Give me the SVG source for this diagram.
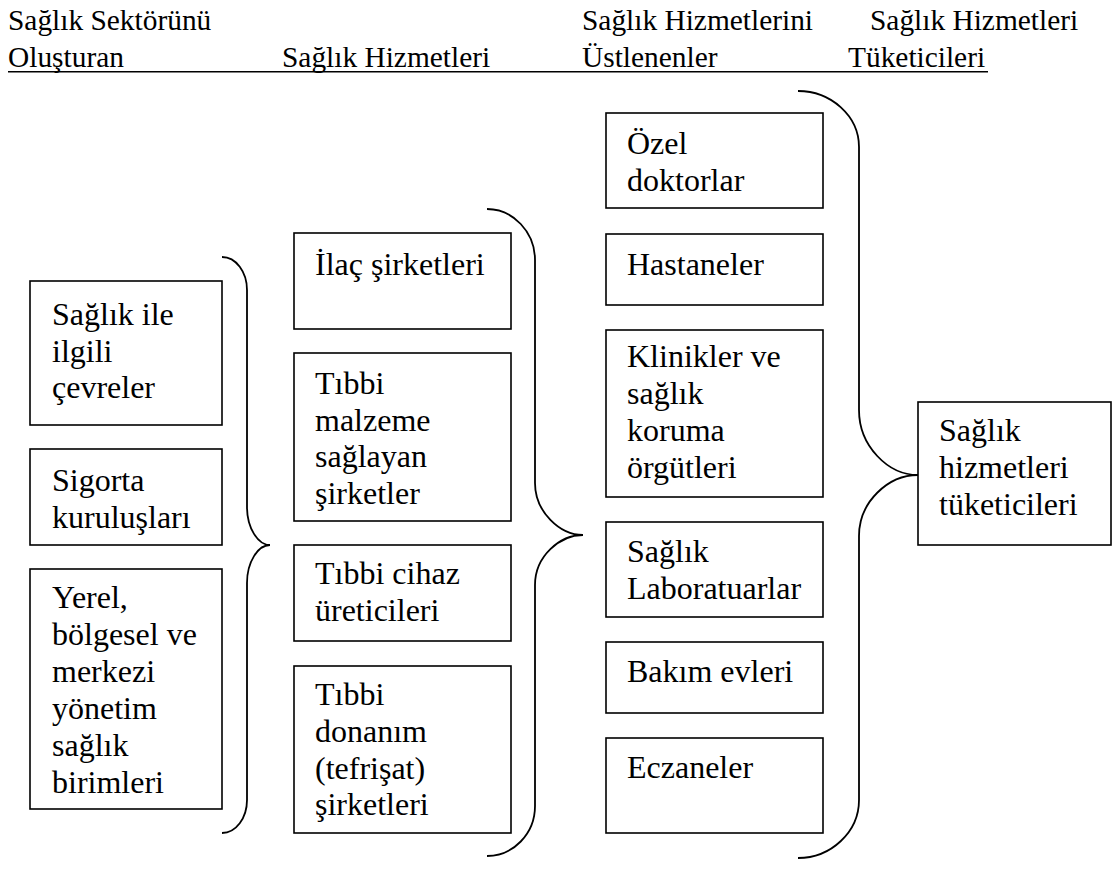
<svg xmlns="http://www.w3.org/2000/svg" width="1115" height="881" viewBox="0 0 1115 881" font-family="'Liberation Serif', 'Times New Roman', 'DejaVu Serif', serif">
<style>
.bg{fill:#fff}
.box{fill:#fff;stroke:#000;stroke-width:1.6}
.br{fill:none;stroke:#000;stroke-width:1.8}
.t{font-family:'Liberation Serif','Times New Roman','DejaVu Serif',serif;font-size:32px;fill:#000}
.h{font-family:'Liberation Serif','Times New Roman','DejaVu Serif',serif;font-size:29.4px;fill:#000}
</style>
<rect class="bg" x="0" y="0" width="1115" height="881"/>
<g id="header" font-family="Liberation Serif">
<text class="h" x="8" y="30">Sağlık Sektörünü</text>
<text class="h" x="8" y="67">Oluşturan</text>
<text class="h" x="282" y="67">Sağlık Hizmetleri</text>
<text class="h" x="582" y="30">Sağlık Hizmetlerini</text>
<text class="h" x="582" y="67">Üstlenenler</text>
<text class="h" x="870" y="30">Sağlık Hizmetleri</text>
<text class="h" x="848" y="67">Tüketicileri</text>
<line x1="8" y1="71.8" x2="988" y2="71.8" stroke="#000" stroke-width="1.6"/>
</g>
<g id="connectors">
<path class="br" d="M222,257 C236,257 247,272 247,290 L247,507 C247,528 258,545 270,545 C258,545 247,562 247,583 L247,800 C247,818 236,833 222,833"/>
<path class="br" d="M487,209 C513,209 535,232 535,260 L535,483 C535,512 560,535 583,535 C560,535 535,556 535,585 L535,806 C535,834 513,856 487,856"/>
<path class="br" d="M798,91 C831,91 859,116 859,147 L859,410 C859,446 888,475 918,475 C888,475 859,502 859,536 L859,800 C859,832 831,858 798,858"/>
</g>
<g id="n1"><rect class="box" x="30" y="281" width="192" height="144"/>
<text class="t" x="52" y="325">Sağlık ile</text><text class="t" x="52" y="361.5">ilgili</text><text class="t" x="52" y="398">çevreler</text></g>
<g id="n2"><rect class="box" x="30" y="449" width="192" height="96"/>
<text class="t" x="52" y="491">Sigorta</text><text class="t" x="52" y="527.5">kuruluşları</text></g>
<g id="n3"><rect class="box" x="30" y="569" width="192" height="240"/>
<text class="t" x="52" y="608">Yerel,</text><text class="t" x="52" y="645">bölgesel ve</text><text class="t" x="52" y="682">merkezi</text><text class="t" x="52" y="719">yönetim</text><text class="t" x="52" y="756">sağlık</text><text class="t" x="52" y="793">birimleri</text></g>
<g id="n4"><rect class="box" x="294" y="233" width="217" height="96"/>
<text class="t" x="315" y="275">İlaç şirketleri</text></g>
<g id="n5"><rect class="box" x="294" y="353" width="217" height="168"/>
<text class="t" x="315" y="394">Tıbbi</text><text class="t" x="315" y="430.5">malzeme</text><text class="t" x="315" y="467">sağlayan</text><text class="t" x="315" y="503.5">şirketler</text></g>
<g id="n6"><rect class="box" x="294" y="545" width="217" height="96"/>
<text class="t" x="315" y="584">Tıbbi cihaz</text><text class="t" x="315" y="621">üreticileri</text></g>
<g id="n7"><rect class="box" x="294" y="666" width="217" height="167"/>
<text class="t" x="315" y="705">Tıbbi</text><text class="t" x="315" y="742">donanım</text><text class="t" x="315" y="778.5">(tefrişat)</text><text class="t" x="315" y="815">şirketleri</text></g>
<g id="n8"><rect class="box" x="606" y="113" width="217" height="95"/>
<text class="t" x="627" y="154">Özel</text><text class="t" x="627" y="191">doktorlar</text></g>
<g id="n9"><rect class="box" x="606" y="234" width="217" height="71"/>
<text class="t" x="627" y="275">Hastaneler</text></g>
<g id="n10"><rect class="box" x="606" y="330" width="217" height="167"/>
<text class="t" x="627" y="367">Klinikler ve</text><text class="t" x="627" y="404">sağlık</text><text class="t" x="627" y="441">koruma</text><text class="t" x="627" y="478">örgütleri</text></g>
<g id="n11"><rect class="box" x="606" y="522" width="217" height="95"/>
<text class="t" x="627" y="562">Sağlık</text><text class="t" x="627" y="598.5">Laboratuarlar</text></g>
<g id="n12"><rect class="box" x="606" y="642" width="217" height="71"/>
<text class="t" x="627" y="682">Bakım evleri</text></g>
<g id="n13"><rect class="box" x="606" y="738" width="217" height="95"/>
<text class="t" x="627" y="778">Eczaneler</text></g>
<g id="n14"><rect class="box" x="918" y="402" width="193" height="143"/>
<text class="t" x="939" y="441">Sağlık</text><text class="t" x="939" y="478">hizmetleri</text><text class="t" x="939" y="515">tüketicileri</text></g>
</svg>
